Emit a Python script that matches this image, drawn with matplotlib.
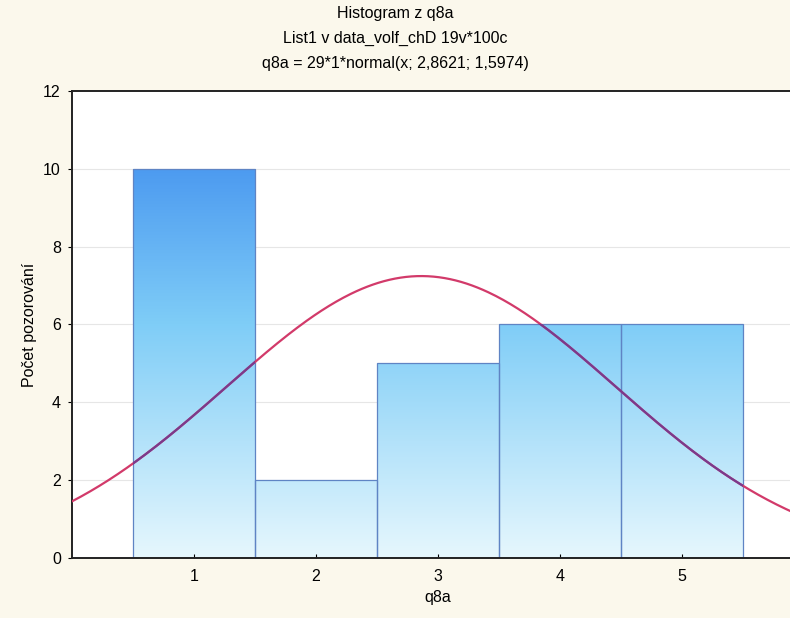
import numpy as np
import matplotlib
matplotlib.use("Agg")
import matplotlib.pyplot as plt
from matplotlib.colors import LinearSegmentedColormap

plt.rcParams['font.family'] = ['Liberation Sans', 'DejaVu Sans']

# datos del histograma
categorias = [1, 2, 3, 4, 5]
frecuencias = [10, 2, 5, 6, 6]
n_total = 29
media = 2.8621
desv = 1.5974

fondo = '#fbf8ec'
fig = plt.figure(figsize=(7.9, 6.18), dpi=100, facecolor=fondo)
ax = fig.add_axes([0.091, 0.097, 0.927, 0.756])
ax.set_facecolor('white')

ax.set_xlim(0, 6)
ax.set_ylim(0, 12)

# rejilla horizontal
for yv in range(2, 12, 2):
    ax.axhline(yv, color='#e6e6e6', lw=0.8, zorder=0)

# barras con degradado (depende de la altura en datos)
degradado = LinearSegmentedColormap.from_list(
    'azul', [(0, '#e6f7fd'), (0.5, '#7fcdf7'), (0.85, '#4a98f0'), (1, '#3f8cec')])
grad = np.linspace(0, 1, 256).reshape(-1, 1)
barras = ax.bar(categorias, frecuencias, width=1.0, color='none',
                edgecolor='#5f84c4', linewidth=0.9, zorder=2)
for b in barras:
    im = ax.imshow(grad, cmap=degradado, origin='lower', aspect='auto',
                   extent=[0, 6, 0, 12], vmin=0, vmax=1, zorder=1)
    im.set_clip_path(b)

# curva normal ajustada
x = np.linspace(0, 6, 400)
y = n_total * 1 * np.exp(-0.5 * ((x - media) / desv) ** 2) / (desv * np.sqrt(2 * np.pi))
ax.plot(x, y, color='#d23a6a', lw=1.6, zorder=3)
for b in barras:
    ln, = ax.plot(x, y, color='#7a3a8c', lw=1.6, zorder=4)
    ln.set_clip_path(b)

ax.set_xticks(categorias)
ax.set_yticks(range(0, 13, 2))
ax.tick_params(axis='x', direction='in', length=3, labelsize=11.5, pad=8)
ax.tick_params(axis='y', direction='out', length=3, labelsize=11.5, pad=5)
for s in ['left', 'bottom', 'top']:
    ax.spines[s].set_linewidth(1.4)
    ax.spines[s].set_color('#222222')
ax.spines['right'].set_visible(False)

ax.set_xlabel('q8a', fontsize=11.5, labelpad=4)
ax.set_ylabel('Počet pozorování', fontsize=11.5, labelpad=4)

fig.text(0.5, 0.978, 'Histogram z q8a', ha='center', va='center', fontsize=11.5)
fig.text(0.5, 0.938, 'List1 v data_volf_chD 19v*100c', ha='center', va='center', fontsize=11.5)
fig.text(0.5, 0.898, 'q8a = 29*1*normal(x; 2,8621; 1,5974)', ha='center', va='center', fontsize=11.5)

plt.savefig('out.png', dpi=100, facecolor=fondo)
